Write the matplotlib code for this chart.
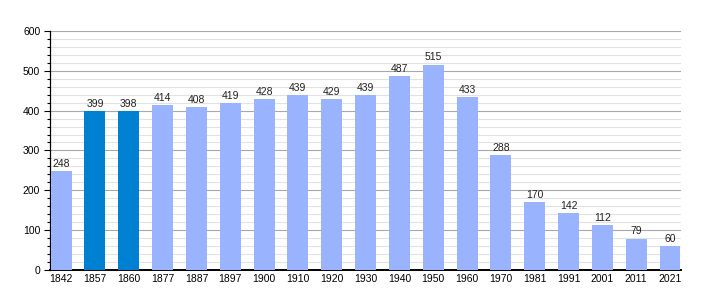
import matplotlib
matplotlib.use("Agg")
import matplotlib.pyplot as plt
from matplotlib.ticker import MultipleLocator

plt.rcParams['font.family'] = ['Liberation Sans', 'DejaVu Sans']

years = ["1842", "1857", "1860", "1877", "1887", "1897", "1900", "1910", "1920", "1930",
         "1940", "1950", "1960", "1970", "1981", "1991", "2001", "2011", "2021"]
population = [248, 399, 398, 414, 408, 419, 428, 439, 429, 439,
              487, 515, 433, 288, 170, 142, 112, 79, 60]
highlighted = ["1857", "1860"]

fig = plt.figure(figsize=(7.1, 3.0), dpi=100)
ax = fig.add_axes([0.0704, 0.1, 0.889, 0.797])

colors = ["#0080d0" if y in highlighted else "#99b3ff" for y in years]
x = range(len(years))
bars = ax.bar(x, population, width=0.62, color=colors, zorder=3)

for xi, v in zip(x, population):
    ax.text(xi, v + 6, str(v), ha="center", va="bottom", fontsize=7.5, color="#222222")

ax.set_xlim(-0.33, len(years) - 1 + 0.33)
ax.set_ylim(0, 600)
ax.set_xticks(list(x))
ax.set_xticklabels(years, fontsize=7.5)
ax.yaxis.set_major_locator(MultipleLocator(100))
ax.yaxis.set_minor_locator(MultipleLocator(20))
ax.tick_params(axis="y", labelsize=7.5, length=4, width=0.8, pad=3)
ax.tick_params(axis="y", which="minor", length=2, width=0.8)
ax.tick_params(axis="x", length=0, pad=3)

ax.grid(axis="y", which="major", color="#a8a8a8", linewidth=0.8, zorder=1)
ax.grid(axis="y", which="minor", color="#e2e2e2", linewidth=0.8, zorder=0)
ax.set_axisbelow(True)

for s in ["top", "right"]:
    ax.spines[s].set_visible(False)
ax.spines["left"].set_linewidth(0.9)
ax.spines["bottom"].set_linewidth(1.4)

fig.savefig("out.png", dpi=100)
